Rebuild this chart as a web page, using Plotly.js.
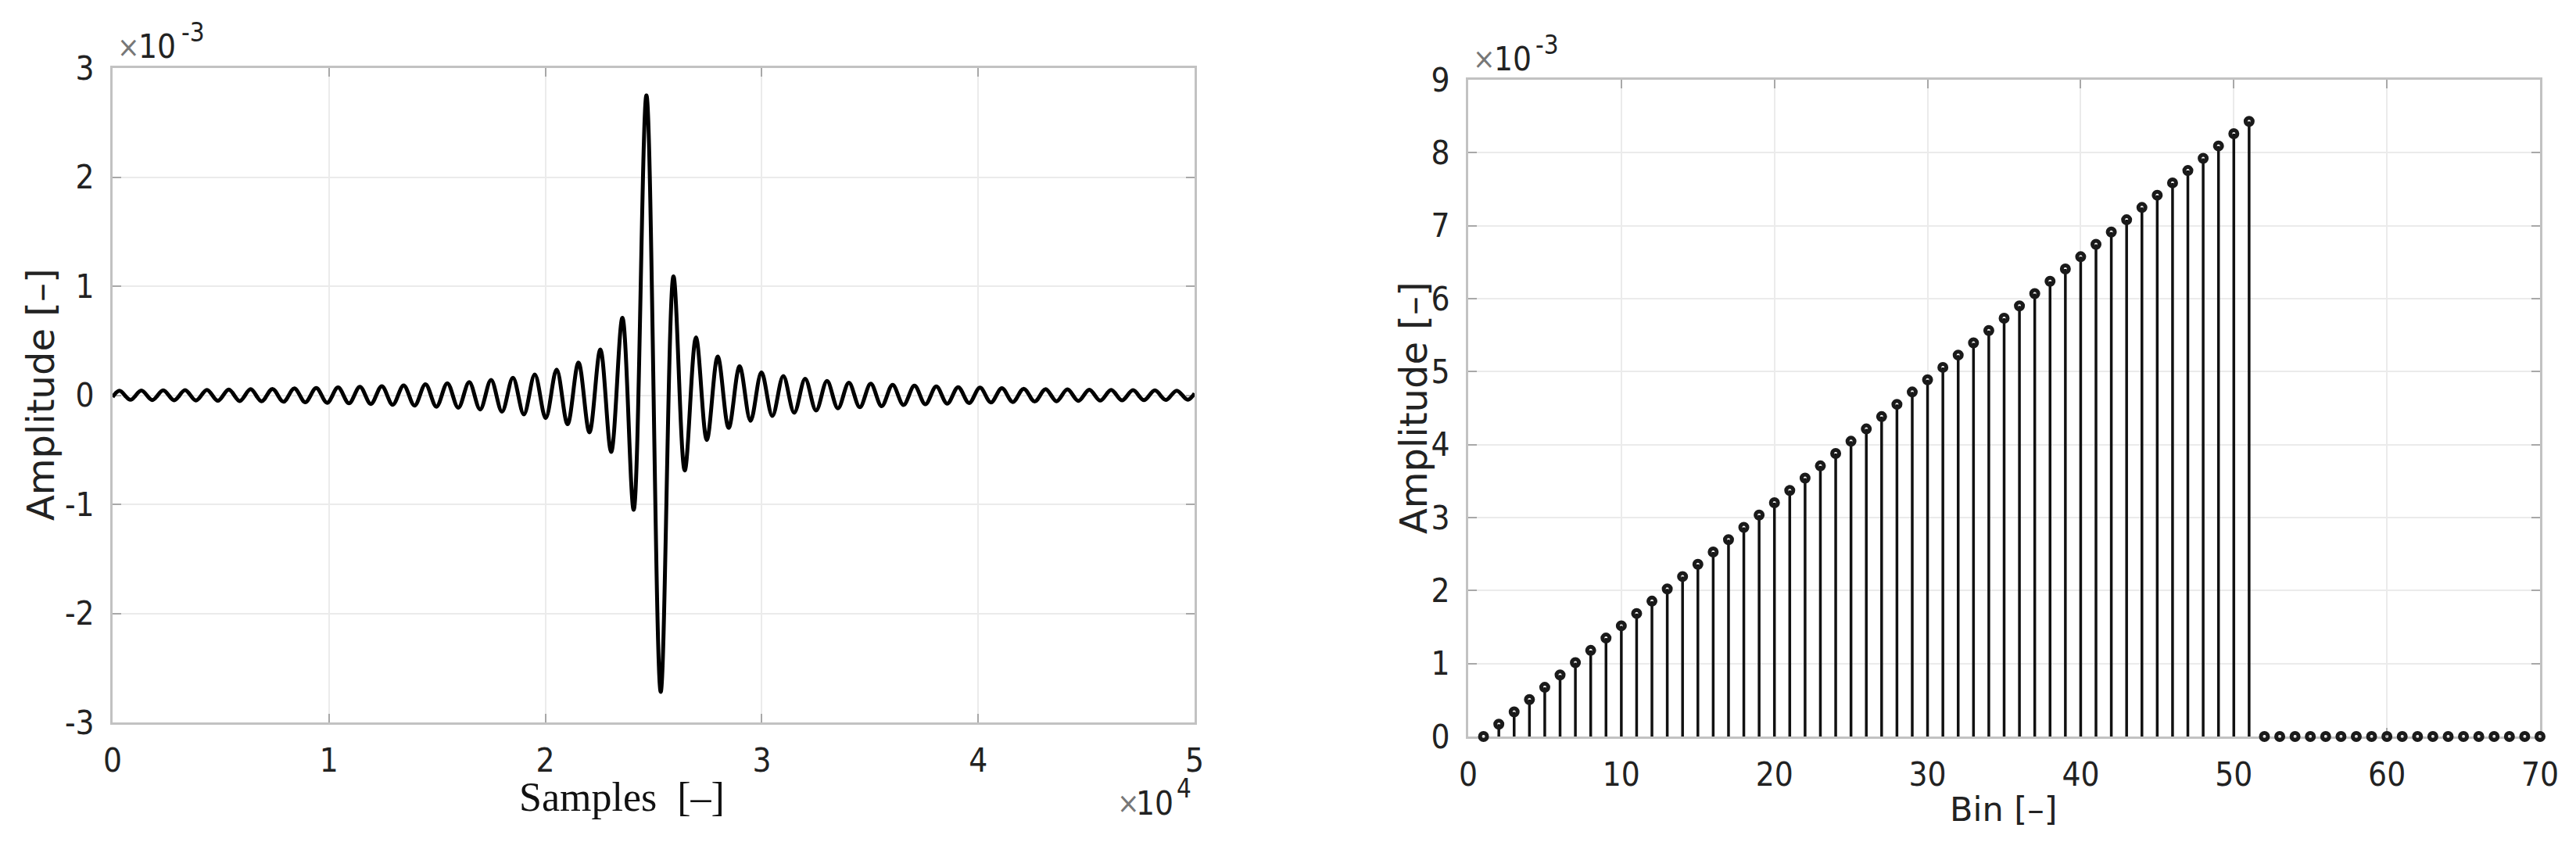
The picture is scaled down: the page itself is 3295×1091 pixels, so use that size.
<!DOCTYPE html>
<html>
<head>
<meta charset="utf-8">
<script src="https://cdn.plot.ly/plotly-3.0.1.min.js"></script>
<style>html,body{margin:0;padding:0;background:#fff;}#chart{width:3295px;height:1091px;}</style>
</head>
<body>
<div id="chart"></div>
<script>
// ---- Left panel: time-domain waveform (extrema), amplitude in units of 1e-3
const sampleX = [0, 320, 825, 1330, 1835, 2340, 2845, 3350, 3855, 4360, 4865, 5370, 5875, 6380, 6885, 7390, 7895, 8400, 8905, 9410, 9915,
  10420, 10925, 11430, 11935, 12440, 12945, 13450, 13955, 14460, 14965, 15470, 15975, 16480, 16985, 17490, 17995, 18500, 19005, 19510, 20015,
  20520, 21025, 21530, 22035, 22540, 23040, 23560, 24080, 24670,
  25330, 25920, 26440, 26960, 27460, 27965, 28470, 28975, 29480, 29985, 30490, 30995, 31500, 32005, 32510, 33015, 33520, 34025, 34530, 35035,
  35540, 36045, 36550, 37055, 37560, 38065, 38570, 39075, 39580, 40085, 40590, 41095, 41600, 42105, 42610, 43115, 43620, 44125, 44630, 45135,
  45640, 46145, 46650, 47155, 47660, 48165, 48670, 49175, 49680, 50000];
const sampleAmp = [-0.017, 0.041, -0.042, 0.043, -0.044, 0.045, -0.046, 0.047, -0.048, 0.049, -0.051, 0.052, -0.053, 0.055, -0.056, 0.058, -0.060, 0.062, -0.064, 0.066, -0.069,
  0.071, -0.074, 0.077, -0.080, 0.083, -0.087, 0.090, -0.095, 0.100, -0.105, 0.110, -0.115, 0.120, -0.130, 0.140, -0.150, 0.160, -0.175, 0.190, -0.210,
  0.235, -0.265, 0.300, -0.340, 0.420, -0.520, 0.710, -1.050, 2.750,
  -2.720, 1.090, -0.690, 0.530, -0.410, 0.355, -0.300, 0.265, -0.235, 0.210, -0.190, 0.175, -0.160, 0.150, -0.140, 0.130, -0.120, 0.115, -0.110, 0.105,
  -0.100, 0.095, -0.090, 0.087, -0.083, 0.080, -0.077, 0.074, -0.071, 0.069, -0.066, 0.064, -0.062, 0.060, -0.058, 0.056, -0.055, 0.053, -0.052, 0.051,
  -0.049, 0.048, -0.047, 0.046, -0.045, 0.044, -0.043, 0.042, -0.041, 0.017];
const sampleTickVals = [0, 10000, 20000, 30000, 40000, 50000];
const sampleTickText = ['0', '1', '2', '3', '4', '5'];
const ampTickVals = [-3, -2, -1, 0, 1, 2, 3];
const ampTickText = ['-3', '-2', '-1', '0', '1', '2', '3'];

// ---- Right panel: spectrum stems, amplitude in units of 1e-3
const bins = [];
for (let b = 1; b <= 70; b++) bins.push(b);
const binAmp = [0, 0.169, 0.337, 0.506, 0.674, 0.843, 1.012, 1.180, 1.349, 1.517,
  1.686, 1.855, 2.023, 2.192, 2.360, 2.529, 2.698, 2.866, 3.035, 3.203,
  3.372, 3.541, 3.709, 3.878, 4.046, 4.215, 4.384, 4.552, 4.721, 4.889,
  5.058, 5.227, 5.395, 5.564, 5.732, 5.901, 6.070, 6.238, 6.407, 6.575,
  6.744, 6.913, 7.081, 7.250, 7.418, 7.587, 7.756, 7.924, 8.093, 8.261,
  8.430, 0, 0, 0, 0, 0, 0, 0, 0, 0,
  0, 0, 0, 0, 0, 0, 0, 0, 0, 0];

const W = 3295, H = 1091;
const px = v => v / W;
const py = v => 1 - v / H;

const FONT = 'DejaVu Sans Condensed, DejaVu Sans, sans-serif';
const tickFont = {family: FONT, size: 42, color: '#222'};
const axisCommon = {
  ticks: 'inside', ticklen: 11, tickwidth: 2, tickcolor: '#a8a8a8',
  showline: true, linecolor: '#c2c2c2', linewidth: 3, mirror: 'ticks',
  showgrid: true, gridcolor: '#ebebeb', gridwidth: 2, zeroline: false,
  tickfont: tickFont, layer: 'below traces', fixedrange: true
};

const traces = [
  {
    type: 'scatter', mode: 'lines', x: sampleX, y: sampleAmp, xaxis: 'x', yaxis: 'y',
    line: {color: '#000', width: 5, shape: 'spline', smoothing: 1}, hoverinfo: 'skip', showlegend: false
  },
  {
    type: 'scatter', mode: 'markers', x: bins, y: binAmp, xaxis: 'x2', yaxis: 'y2', cliponaxis: false,
    marker: {symbol: 'circle-open', size: 9, color: '#1a1a1a', line: {width: 5, color: '#1a1a1a'}},
    error_y: {type: 'data', symmetric: false, array: binAmp.map(() => 0), arrayminus: binAmp,
              width: 0, thickness: 3.5, color: '#111'},
    hoverinfo: 'skip', showlegend: false
  }
];

function ann(x, y, text, opts) {
  return Object.assign({xref: 'paper', yref: 'paper', x: px(x), y: py(y), showarrow: false, text: text,
    xanchor: 'center', yanchor: 'middle', font: tickFont}, opts || {});
}
const expFont = {family: FONT, size: 33, color: '#222'};
const timesFont = {family: FONT, size: 38, color: '#777'};
const titleFont = {family: 'DejaVu Sans, sans-serif', size: 48, color: '#222'};

const layout = {
  width: W, height: H, margin: {l: 0, r: 0, t: 0, b: 0},
  paper_bgcolor: '#fff', plot_bgcolor: '#fff', showlegend: false,
  xaxis: Object.assign({}, axisCommon, {
    domain: [px(144), px(1528)], range: [0, 50000], anchor: 'y',
    tickmode: 'array', tickvals: sampleTickVals, ticktext: sampleTickText, ticklabelstandoff: 10
  }),
  yaxis: Object.assign({}, axisCommon, {
    domain: [1 - 924 / H, 1 - 87 / H], range: [-3, 3], anchor: 'x',
    tickmode: 'array', tickvals: ampTickVals, ticktext: ampTickText, ticklabelstandoff: 12
  }),
  xaxis2: Object.assign({}, axisCommon, {
    domain: [px(1878), px(3249)], range: [0, 70], anchor: 'y2', dtick: 10, ticklabelstandoff: 10
  }),
  yaxis2: Object.assign({}, axisCommon, {
    domain: [1 - 942 / H, 1 - 102 / H], range: [0, 9], anchor: 'x2', dtick: 1, ticklabelstandoff: 12
  }),
  annotations: [
    // x10^-3 (left)
    ann(148, 60, '×', {xanchor: 'left', font: timesFont}),
    ann(175, 60, '10', {xanchor: 'left'}),
    ann(230, 42, '-3', {xanchor: 'left', font: expFont}),
    // x10^-3 (right)
    ann(1882, 75, '×', {xanchor: 'left', font: timesFont}),
    ann(1909, 75, '10', {xanchor: 'left'}),
    ann(1962, 57, '-3', {xanchor: 'left', font: expFont}),
    // x10^4
    ann(1427, 1027, '×', {xanchor: 'left', font: timesFont}),
    ann(1503, 1027, '10', {xanchor: 'right'}),
    ann(1503, 1008, '4', {xanchor: 'left', font: expFont}),
    ann(795, 1020, 'Samples\u00A0\u00A0[–]', {font: {family: 'Liberation Serif, serif', size: 52, color: '#111'}}),
    ann(2562, 1035, 'Bin [–]', {font: {family: 'DejaVu Sans, sans-serif', size: 43, color: '#222'}}),
    ann(52, 505, 'Amplitude [–]', {textangle: -90, font: titleFont}),
    ann(1808, 522, 'Amplitude [–]', {textangle: -90, font: titleFont})
  ]
};

Plotly.newPlot('chart', traces, layout, {displayModeBar: false, staticPlot: true});
</script>
</body>
</html>
